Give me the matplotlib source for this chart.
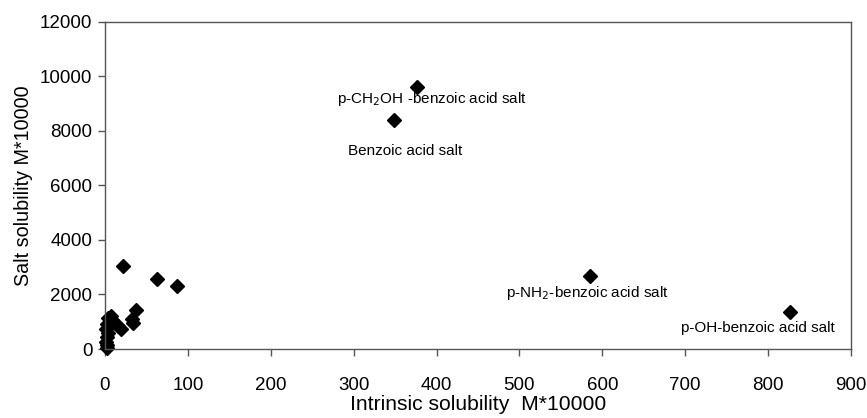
import matplotlib
matplotlib.use("Agg")
import matplotlib.pyplot as plt

plt.rcParams['font.family'] = ['Liberation Sans', 'DejaVu Sans']

# Intrinsic solubility (M*10000) and salt solubility (M*10000)
intrinsic = [2, 1, 3, 2, 4, 1, 3, 4, 7, 9, 12, 16, 19, 32, 34, 38, 22, 63, 87,
             349, 376, 585, 826]
salt = [50, 250, 150, 450, 600, 750, 900, 1150, 1200, 1050, 950, 850, 750,
        1100, 950, 1420, 3050, 2550, 2300,
        8390, 9620, 2690, 1340]

label_texts = ["Benzoic acid salt", "p-CH$_2$OH -benzoic acid salt",
               "p-NH$_2$-benzoic acid salt", "p-OH-benzoic acid salt"]
label_x = [362, 395, 582, 788]
label_y = [7250, 9180, 2050, 780]

xticks = [0, 100, 200, 300, 400, 500, 600, 700, 800, 900]
yticks = [0, 2000, 4000, 6000, 8000, 10000, 12000]

fig = plt.figure(figsize=(8.67, 4.18), dpi=100)
ax = fig.add_axes([0.1211, 0.1650, 0.8604, 0.7832])
ax.plot(intrinsic, salt, linestyle='none', marker='D', markersize=7.2,
        color='black', clip_on=False)

for t, x, y in zip(label_texts, label_x, label_y):
    ax.text(x, y, t, ha='center', va='center', fontsize=11)

ax.set_xlim(0, 900)
ax.set_ylim(0, 12000)
ax.set_xticks(xticks)
ax.set_yticks(yticks)
ax.tick_params(axis='both', labelsize=13.5, direction='out', length=5,
               width=1, color='#555555')
ax.tick_params(axis='x', pad=15)
ax.tick_params(axis='y', pad=4)
for s in ax.spines.values():
    s.set_color('#555555')
    s.set_linewidth(1)

ax.set_xlabel("Intrinsic solubility  M*10000", fontsize=15.2, labelpad=1)
ax.set_ylabel("Salt solubility M*10000", fontsize=14.2, labelpad=5)

fig.savefig("out.png", dpi=100)
